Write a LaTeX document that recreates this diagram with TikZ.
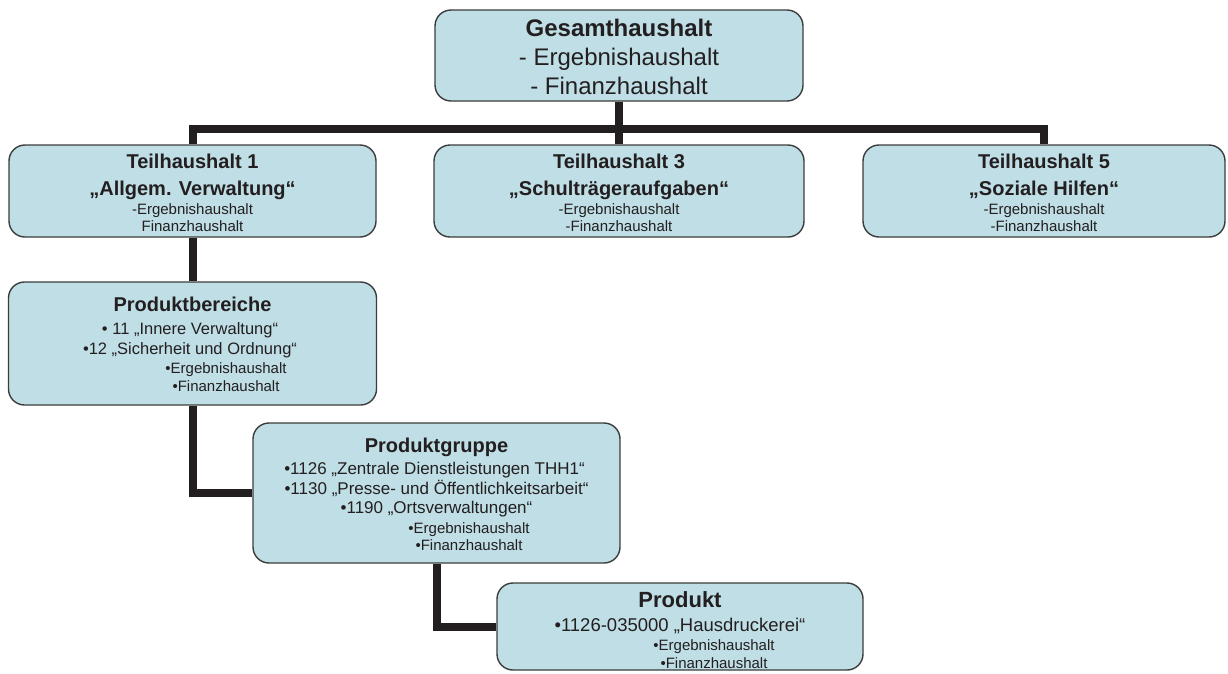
\documentclass[tikz,border=0pt]{standalone}
\usepackage{fontspec}
\setmainfont{Liberation Sans}
\definecolor{boxfill}{RGB}{191,222,229}
\definecolor{boxline}{RGB}{60,60,60}
\definecolor{ink}{RGB}{35,31,32}
\begin{document}
\begin{tikzpicture}[x=1pt,y=-1pt,
  box/.style={draw=boxline, line width=1.4pt, fill=boxfill, rounded corners=16pt, inner sep=0pt},
  conn/.style={draw=ink, line width=8pt, line join=miter},
  txt/.style={anchor=base, inner sep=0pt, text=ink},
  bigb/.style={txt, font=\bfseries\fontsize{24}{28}\selectfont},
  bigr/.style={txt, font=\fontsize{24}{28}\selectfont},
  hb/.style={txt, font=\bfseries\fontsize{20}{24}\selectfont},
  sm/.style={txt, font=\fontsize{15}{18}\selectfont}]
\useasboundingbox (0,0) rectangle (1228,673);
% boxes
\node[box, minimum width=368pt, minimum height=91pt] (G) at (619,55.5) {};
\node[box, minimum width=367pt, minimum height=92pt] (T1) at (192.5,191) {};
\node[box, minimum width=370pt, minimum height=92pt] (T3) at (619,191) {};
\node[box, minimum width=362pt, minimum height=92pt] (T5) at (1044,191) {};
\node[box, minimum width=368pt, minimum height=123pt] (PB) at (192.5,343.5) {};
\node[box, minimum width=367pt, minimum height=140pt] (PG) at (436.5,493) {};
\node[box, minimum width=366pt, minimum height=87pt] (P) at (680,626.5) {};
% connectors
\draw[conn] (G.south) -- (T3.north);
\draw[conn] (T1.north) -- ++(0,-15) -| (T5.north);
\draw[conn] (T1.south) -- (PB.north);
\draw[conn] (PB.south) |- (PG.west);
\draw[conn] (PG.south) |- (P.west);
% texts
\node[bigb] (g1) at (619,36) {Gesamthaushalt};
\node[bigr] (g2) at (619,65) {- Ergebnishaushalt};
\node[bigr] (g3) at (619,94) {- Finanzhaushalt};

\node[hb] (t11) at (192.5,168) {Teilhaushalt 1};
\node[hb] (t12) at (192.5,195) {„Allgem. Verwaltung“};
\node[sm] (t13) at (192.5,214) {-Ergebnishaushalt};
\node[sm] (t14) at (192.5,231) {Finanzhaushalt};

\node[hb] (t31) at (619,168) {Teilhaushalt 3};
\node[hb] (t32) at (619,195) {„Schulträgeraufgaben“};
\node[sm] (t33) at (619,214) {-Ergebnishaushalt};
\node[sm] (t34) at (619,231) {-Finanzhaushalt};

\node[hb] (t51) at (1044,168) {Teilhaushalt 5};
\node[hb] (t52) at (1044,195) {„Soziale Hilfen“};
\node[sm] (t53) at (1044,214) {-Ergebnishaushalt};
\node[sm] (t54) at (1044,231) {-Finanzhaushalt};

\node[hb] (pb1) at (192.5,311) {Produktbereiche};
\node[txt, font=\fontsize{16.5}{19}\selectfont] (pb2) at (190,334) {• 11 „Innere Verwaltung“};
\node[txt, font=\fontsize{16.5}{19}\selectfont] (pb3) at (190,354) {•12 „Sicherheit und Ordnung“};
\node[sm] (pb4) at (226,373) {•Ergebnishaushalt};
\node[sm] (pb5) at (226,391) {•Finanzhaushalt};

\node[hb] (pg1) at (436.5,452) {Produktgruppe};
\node[txt, font=\fontsize{17}{20}\selectfont] (pg2) at (434.5,474) {•1126 „Zentrale Dienstleistungen THH1“};
\node[txt, font=\fontsize{17}{20}\selectfont] (pg3) at (436.5,494) {•1130 „Presse- und Öffentlichkeitsarbeit“};
\node[txt, font=\fontsize{17}{20}\selectfont] (pg4) at (436.5,513) {•1190 „Ortsverwaltungen“};
\node[sm] (pg5) at (469,533) {•Ergebnishaushalt};
\node[sm] (pg6) at (469,550) {•Finanzhaushalt};

\node[txt, font=\bfseries\fontsize{22}{26}\selectfont] (p1) at (680,607) {Produkt};
\node[txt, font=\fontsize{18.5}{22}\selectfont] (p2) at (680,631) {•1126-035000 „Hausdruckerei“};
\node[sm] (p3) at (714,650) {•Ergebnishaushalt};
\node[sm] (p4) at (714,668) {•Finanzhaushalt};
\end{tikzpicture}
\end{document}
